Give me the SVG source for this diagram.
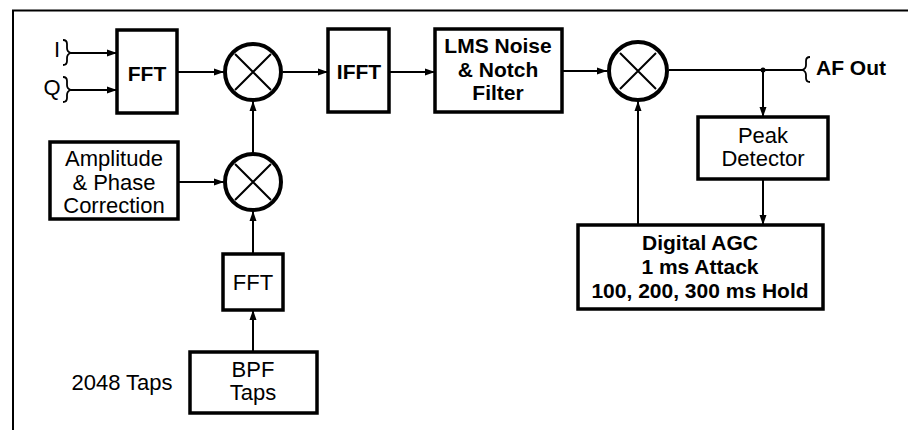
<svg xmlns="http://www.w3.org/2000/svg" width="908" height="430" viewBox="0 0 908 430">
<style>
.box{fill:#fff;stroke:#000;stroke-width:3.5}
.mix{fill:#fff;stroke:#000;stroke-width:4}
.x{stroke:#000;stroke-width:2}
.ln{fill:none;stroke:#000;stroke-width:2}
.br{fill:none;stroke:#000;stroke-width:1.8}
.t{font-family:"Liberation Sans",Arial,sans-serif;font-size:22px;fill:#000;text-anchor:middle}
.b{font-weight:bold;font-size:21px}
.l{text-anchor:start}
</style>
<defs>
<marker id="ah" markerUnits="userSpaceOnUse" markerWidth="11" markerHeight="8" refX="10" refY="4" orient="auto">
<path d="M0,0.5 L10,4 L0,7.5 z" fill="#000"/>
</marker>
</defs>
<rect width="908" height="430" fill="#fff"/>
<g id="frame">
<path d="M13,430 V10.5 H908" fill="none" stroke="#000" stroke-width="2"/>
</g>
<g id="connectors">
<path class="ln" d="M71,53 H117" marker-end="url(#ah)"/>
<path class="ln" d="M71,90 H117" marker-end="url(#ah)"/>
<path class="br" d="M63,40 q4,0 4,4 v4 q0,4 4,5 q-4,1 -4,5 v3 q0,4 -4,4"/>
<path class="br" d="M63,77 q4,0 4,4 v4 q0,4 4,5 q-4,1 -4,5 v3 q0,4 -4,4"/>
<path class="ln" d="M177,72 H224" marker-end="url(#ah)"/>
<path class="ln" d="M283,72 H328" marker-end="url(#ah)"/>
<path class="ln" d="M389,72 H435" marker-end="url(#ah)"/>
<path class="ln" d="M562,71 H607" marker-end="url(#ah)"/>
<path class="ln" d="M669,70 H803"/>
<path class="br" d="M810,57 q-4,0 -4,4 v4 q0,4 -4,5 q4,1 4,5 v3 q0,4 4,4"/>
<circle cx="763" cy="70" r="2.5" fill="#000"/>
<path class="ln" d="M763,70 V117" marker-end="url(#ah)"/>
<path class="ln" d="M763,179 V225" marker-end="url(#ah)"/>
<path class="ln" d="M638,225 V101" marker-end="url(#ah)"/>
<path class="ln" d="M178,182 H224" marker-end="url(#ah)"/>
<path class="ln" d="M253,153 V101" marker-end="url(#ah)"/>
<path class="ln" d="M253,254 V211" marker-end="url(#ah)"/>
<path class="ln" d="M253,352 V310" marker-end="url(#ah)"/>
</g>
<g id="labels">
<text class="t" x="57" y="57">I</text>
<text class="t" x="52" y="95">Q</text>
<text class="t b l" x="816" y="75">AF Out</text>
<text class="t" x="122" y="390">2048 Taps</text>
</g>
<g id="fft1">
<rect class="box" x="117" y="30" width="60" height="83"/>
<text class="t b" x="147" y="81">FFT</text>
</g>
<g id="mixer1">
<circle class="mix" cx="253" cy="72" r="28"/>
<path class="x" d="M235,54 L271,90 M271,54 L235,90"/>
</g>
<g id="ifft">
<rect class="box" x="328" y="29" width="61" height="83"/>
<text class="t b" x="359" y="79">IFFT</text>
</g>
<g id="lms">
<rect class="box" x="435" y="29" width="127" height="83"/>
<text class="t b" x="498" y="53">LMS Noise</text>
<text class="t b" x="498" y="77">&amp; Notch</text>
<text class="t b" x="498" y="100">Filter</text>
</g>
<g id="mixer2">
<circle class="mix" cx="638" cy="71" r="29"/>
<path class="x" d="M620,53 L656,89 M656,53 L620,89"/>
</g>
<g id="peak">
<rect class="box" x="698" y="117" width="130" height="62"/>
<text class="t" x="763" y="143">Peak</text>
<text class="t" x="763" y="166">Detector</text>
</g>
<g id="agc">
<rect class="box" x="578" y="225" width="245" height="84"/>
<text class="t b" x="700" y="250">Digital AGC</text>
<text class="t b" x="700" y="274">1 ms Attack</text>
<text class="t b" x="700" y="298">100, 200, 300 ms Hold</text>
</g>
<g id="amp">
<rect class="box" x="50" y="142" width="128" height="77"/>
<text class="t" x="114" y="166">Amplitude</text>
<text class="t" x="114" y="190">&amp; Phase</text>
<text class="t" x="114" y="213">Correction</text>
</g>
<g id="mixer3">
<circle class="mix" cx="253" cy="182" r="28"/>
<path class="x" d="M235,164 L271,200 M271,164 L235,200"/>
</g>
<g id="fft2">
<rect class="box" x="223" y="254" width="60" height="56"/>
<text class="t" x="253" y="290">FFT</text>
</g>
<g id="bpf">
<rect class="box" x="190" y="352" width="127" height="61"/>
<text class="t" x="253" y="377">BPF</text>
<text class="t" x="253" y="400">Taps</text>
</g>
</svg>
